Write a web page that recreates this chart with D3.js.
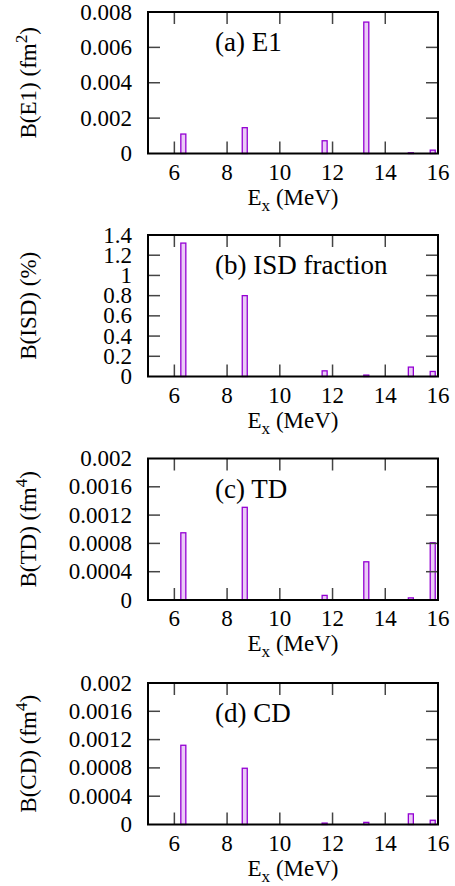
<!DOCTYPE html>
<html>
<head>
<meta charset="utf-8">
<script src="https://cdn.jsdelivr.net/npm/d3@7"></script>
<style>
  html, body { margin: 0; padding: 0; background: #fff; }
  svg { display: block; }
</style>
</head>
<body>
<svg id="chart" width="455" height="886"></svg>
<script>
// ---- Data ----
const energies = [6.34, 8.67, 11.70, 13.28, 14.97, 15.80];
const bE1  = [0.00110, 0.00146, 0.00072, 0.00743, 0.00004, 0.00019];
const bISD = [1.32, 0.80, 0.056, 0.014, 0.093, 0.05];
const bTD  = [0.00095, 0.00131, 0.000065, 0.00054, 0.00003, 0.00081];
const bCD  = [0.00112, 0.000795, 0.00002, 0.00003, 0.00015, 0.00006];

const xTicks = [6, 8, 10, 12, 14, 16];
const yTicksE1  = [0, 0.002, 0.004, 0.006, 0.008];
const yTickLabelsE1 = ["0", "0.002", "0.004", "0.006", "0.008"];
const yTicksISD = [0, 0.2, 0.4, 0.6, 0.8, 1.0, 1.2, 1.4];
const yTickLabelsISD = ["0", "0.2", "0.4", "0.6", "0.8", "1", "1.2", "1.4"];
const yTicksQ = [0, 0.0004, 0.0008, 0.0012, 0.0016, 0.002];
const yTickLabelsQ = ["0", "0.0004", "0.0008", "0.0012", "0.0016", "0.002"];

const panelLabels = ["(a) E1", "(b) ISD fraction", "(c) TD", "(d) CD"];

// ---- Layout ----
const FONT = "'Liberation Serif'";
const svg = d3.select("#chart");
const left = 148, right = 438, plotH = 141.5;
const tops = [12, 235, 458.5, 683];
const xDomain = [5, 16];
const barW = 0.19;
const strokeCol = "#9400d3";
const fillCol = "#eaccf6";
const tickFont = 23, labelFont = 23, panelFont = 27;

const panels = [
  { values: bE1, ticks: yTicksE1, labels: yTickLabelsE1, max: 0.008, ylab: "B(E1) (fm", sup: "2", tail: ")" },
  { values: bISD, ticks: yTicksISD, labels: yTickLabelsISD, max: 1.4, ylab: "B(ISD) (%)", sup: null, tail: "" },
  { values: bTD, ticks: yTicksQ, labels: yTickLabelsQ, max: 0.002, ylab: "B(TD) (fm", sup: "4", tail: ")" },
  { values: bCD, ticks: yTicksQ, labels: yTickLabelsQ, max: 0.002, ylab: "B(CD) (fm", sup: "4", tail: ")" }
];

const x = d3.scaleLinear().domain(xDomain).range([left, right]);

function txt(g) {
  return g.append("text").style("font-family", FONT).attr("fill", "#000");
}

panels.forEach((p, i) => {
  const top = tops[i], bottom = top + plotH;
  const y = d3.scaleLinear().domain([0, p.max]).range([bottom, top]);
  const g = svg.append("g");

  // bars
  g.selectAll("rect.bar").data(energies.map((e, k) => ({ e, v: p.values[k] })))
    .enter().append("rect")
    .attr("class", "bar")
    .attr("x", d => x(d.e - barW / 2))
    .attr("width", d => x(d.e + barW / 2) - x(d.e - barW / 2))
    .attr("y", d => y(d.v))
    .attr("height", d => Math.max(0, y(0) - y(d.v)))
    .attr("fill", fillCol)
    .attr("stroke", strokeCol)
    .attr("stroke-width", 1.3);

  // ticks (mirrored on all sides)
  const tl = 12;
  const tickCol = "#444";
  xTicks.forEach(t => {
    if (t <= xDomain[0] || t >= xDomain[1]) return;
    g.append("line").attr("x1", x(t)).attr("x2", x(t)).attr("y1", bottom).attr("y2", bottom - tl)
      .attr("stroke", tickCol).attr("stroke-width", 1.5);
    g.append("line").attr("x1", x(t)).attr("x2", x(t)).attr("y1", top).attr("y2", top + tl)
      .attr("stroke", tickCol).attr("stroke-width", 1.5);
  });
  p.ticks.forEach(t => {
    if (t <= 0 || t >= p.max - 1e-12) return;
    g.append("line").attr("x1", left).attr("x2", left + tl).attr("y1", y(t)).attr("y2", y(t))
      .attr("stroke", tickCol).attr("stroke-width", 1.5);
    g.append("line").attr("x1", right).attr("x2", right - tl).attr("y1", y(t)).attr("y2", y(t))
      .attr("stroke", tickCol).attr("stroke-width", 1.5);
  });

  // frame
  g.append("rect").attr("x", left).attr("y", top).attr("width", right - left).attr("height", plotH)
    .attr("fill", "none").attr("stroke", "#000").attr("stroke-width", 2);

  // x tick labels
  xTicks.forEach(t => {
    txt(g).attr("x", x(t)).attr("y", bottom + 26)
      .attr("text-anchor", "middle").attr("font-size", tickFont).text(t);
  });
  // y tick labels
  p.ticks.forEach((t, k) => {
    txt(g).attr("x", left - 16).attr("y", y(t)).attr("dy", "0.33em")
      .attr("text-anchor", "end").attr("font-size", tickFont).text(p.labels[k]);
  });

  // x axis label
  const xl = txt(g).attr("x", (left + right) / 2).attr("y", bottom + 51)
    .attr("text-anchor", "middle").attr("font-size", labelFont);
  xl.append("tspan").text("E");
  xl.append("tspan").attr("dy", 6).attr("font-size", labelFont * 0.75).text("x");
  xl.append("tspan").attr("dy", -6).text(" (MeV)");

  // y axis label
  const yl = txt(g)
    .attr("transform", `translate(36,${(top + bottom) / 2}) rotate(-90)`)
    .attr("text-anchor", "middle").attr("font-size", labelFont);
  yl.append("tspan").text(p.ylab);
  if (p.sup) {
    yl.append("tspan").attr("dy", -9).attr("font-size", labelFont * 0.75).text(p.sup);
    yl.append("tspan").attr("dy", 9).text(p.tail);
  }

  // panel label
  txt(g).attr("x", 215).attr("y", top + 39)
    .attr("font-size", panelFont).text(panelLabels[i]);
});
</script>
</body>
</html>
